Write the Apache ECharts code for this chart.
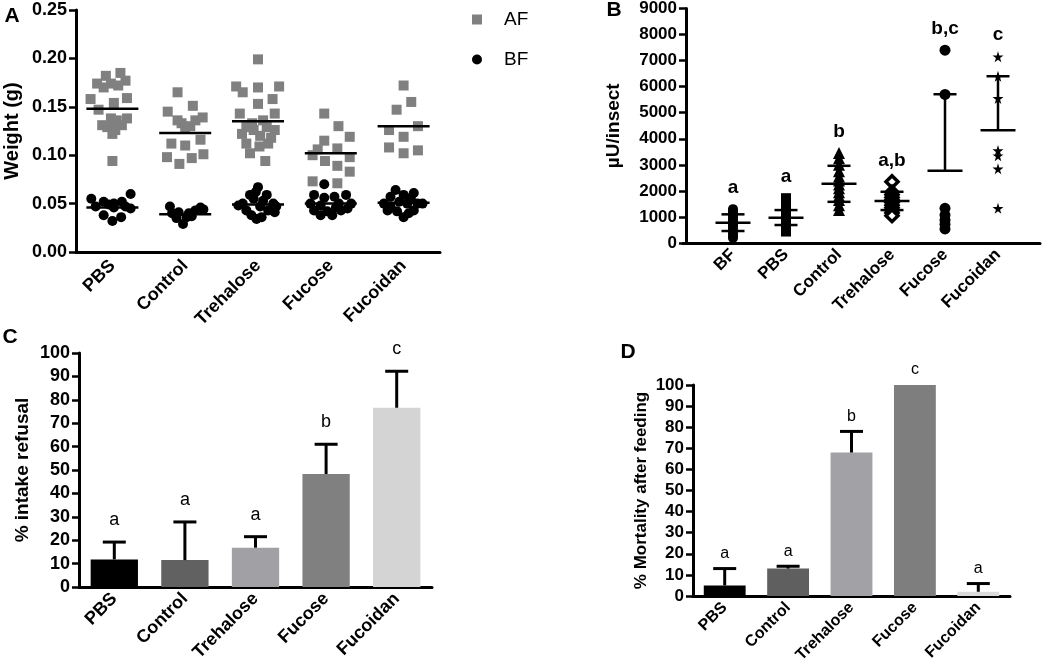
<!DOCTYPE html>
<html><head><meta charset="utf-8">
<script src="https://cdn.jsdelivr.net/npm/echarts@6/dist/echarts.min.js"></script>
<style>html,body{margin:0;padding:0;background:#fff}#c{width:1045px;height:670px}</style>
</head><body><div id="c"></div><script>
const FONT = "'Liberation Sans', Arial, sans-serif";

// ---------- Panel A: weight (g), [jitter, value] ----------
const catsA = ['PBS', 'Control', 'Trehalose', 'Fucose', 'Fucoidan'];
const afPBS = [[-0.30,0.158],[-0.19,0.147],[-0.21,0.174],[-0.09,0.182],[-0.02,0.174],[0.11,0.185],[0.18,0.177],[0.02,0.154],[0.20,0.159],[-0.02,0.138],[0.20,0.138],[-0.14,0.131],[-0.07,0.129],[0.06,0.136],[0.04,0.126],[0.13,0.131],[0.00,0.094],[-0.12,0.170],[0.08,0.172],[0.00,0.122]];
const afControl = [[-0.105,0.165],[0.105,0.151],[-0.24,0.145],[-0.105,0.136],[0.0,0.129],[0.14,0.136],[0.24,0.139],[-0.19,0.112],[0.0,0.110],[0.21,0.116],[-0.25,0.098],[-0.08,0.091],[0.09,0.097],[0.25,0.101],[-0.05,0.133],[0.07,0.130]];
const afTrehalose = [[0.0,0.199],[-0.30,0.171],[-0.21,0.165],[0.0,0.170],[0.29,0.171],[0.0,0.153],[0.20,0.158],[-0.25,0.143],[0.23,0.143],[-0.22,0.122],[-0.06,0.126],[0.12,0.129],[0.23,0.126],[0.03,0.120],[-0.16,0.112],[0.14,0.112],[-0.11,0.102],[0.02,0.109],[0.10,0.094],[-0.16,0.129],[0.07,0.136],[-0.08,0.133],[0.18,0.118]];
const afFucose = [[-0.09,0.143],[0.105,0.130],[0.26,0.119],[-0.09,0.115],[-0.18,0.106],[0.09,0.107],[-0.25,0.100],[0.26,0.098],[-0.08,0.094],[0.09,0.089],[0.26,0.083],[-0.25,0.073],[0.09,0.071]];
const afFucoidan = [[0.0,0.172],[0.105,0.155],[-0.096,0.147],[0.197,0.130],[-0.20,0.126],[0.0,0.119],[-0.20,0.108],[0.0,0.102],[0.197,0.105]];
const bfPBS = [[-0.29,0.055],[-0.23,0.047],[-0.12,0.052],[-0.12,0.038],[0.00,0.032],[0.02,0.050],[0.13,0.052],[0.12,0.036],[0.25,0.060],[0.25,0.045],[0.02,0.046],[-0.05,0.049],[0.18,0.047]];
const bfControl = [[-0.21,0.047],[-0.09,0.041],[0.02,0.036],[-0.03,0.029],[0.14,0.043],[0.21,0.046],[-0.18,0.040],[0.09,0.037],[0.25,0.044],[-0.12,0.035],[0.05,0.040]];
const bfTrehalose = [[0.0,0.067],[-0.11,0.059],[0.12,0.059],[-0.21,0.050],[0.21,0.050],[-0.16,0.043],[0.14,0.043],[-0.02,0.034],[0.05,0.036],[-0.09,0.038],[0.23,0.041],[-0.27,0.048],[-0.06,0.055],[0.07,0.053],[0.03,0.047],[0.25,0.047],[-0.03,0.062]];
const bfFucose = [[-0.09,0.070],[-0.23,0.059],[-0.09,0.056],[0.05,0.057],[0.21,0.059],[-0.28,0.050],[-0.14,0.048],[0.11,0.050],[0.28,0.050],[-0.23,0.043],[-0.05,0.042],[0.14,0.043],[-0.14,0.038],[0.02,0.038],[0.23,0.045],[0.07,0.046]];
const bfFucoidan = [[-0.11,0.064],[0.14,0.061],[-0.18,0.057],[0.0,0.059],[-0.27,0.050],[-0.18,0.047],[0.05,0.050],[0.19,0.050],[-0.09,0.042],[0.0,0.036],[0.14,0.043],[-0.22,0.043],[-0.06,0.052],[0.10,0.056],[0.26,0.050],[0.07,0.040]];
const afMean = [0.148, 0.123, 0.135, 0.102, 0.130];
const bfMean = [0.046, 0.039, 0.049, 0.050, 0.051];

// ---------- Panel B: µU/insect ----------
const catsB = ['BF', 'PBS', 'Control', 'Trehalose', 'Fucose', 'Fucoidan'];
const bBF = [1300,1230,1150,1060,970,880,800,720,630,540,450,350,260,190];
const bPBS = [1720,1640,1530,1420,1300,1180,1060,950,840,730,640,560,480,440];
const bControl = [3450,3250,3000,2750,2550,2400,2250,2100,1950,1800,1650,1450,1270];
const bTrehalose = [2350,1950,1850,1750,1650,1550,1450,1350,1250,1150,1050];
const bFucose = [7400,5700,1330,1070,880,720,540];
const bFucoidan = [7150,6400,5550,3550,3350,2850,1330];
const bMean = [780, 970, 2270, 1610, 2770, 4330];
const bSdHigh = [1100, 1264, 2963, 1966, 5710, 6400];
const bSdLow = [460, 690, 1580, 1264, null, null];
const bLetters = ['a', 'a', 'b', 'a,b', 'b,c', 'c'];

// ---------- Panel C: % intake refusal ----------
const catsC = ['PBS', 'Control', 'Trehalose', 'Fucose', 'Fucoidan'];
const cValues = [11.8, 11.5, 16.8, 48.3, 76.6];
const cErrTop = [19.2, 27.8, 21.5, 61.0, 92.2];
const cLetters = ['a', 'a', 'a', 'b', 'c'];
const cColors = ['#000000', '#616161', '#a1a1a5', '#808080', '#d4d4d4'];

// ---------- Panel D: % mortality after feeding ----------
const catsD = ['PBS', 'Control', 'Trehalose', 'Fucose', 'Fucoidan'];
const dValues = [5.0, 13.0, 68.0, 100, 2.0];
const dErrTop = [13.0, 14.1, 78.0, null, 5.9];
const dLetters = ['a', 'a', 'b', 'c', 'a'];
const dColors = ['#000000', '#5f5f5f', '#a2a2a6', '#7e7e7e', '#dadada'];

const STAR = 'path://M50,0 L61,35 L98,35 L68,57 L79,91 L50,70 L21,91 L32,57 L2,35 L39,35 Z';

function catAxis(gridIndex, data, fontSize, extra, margin) {
  return Object.assign({
    type: 'category', gridIndex, data,
    axisLine: { onZero: false, lineStyle: { color: '#000', width: 3 } },
    axisTick: { alignWithLabel: true, length: 7, lineStyle: { width: 2.5, color: '#000' } },
    axisLabel: { rotate: 45, margin: margin || 9, color: '#000', fontWeight: 'bold', fontSize, fontFamily: FONT, interval: 0 },
    splitLine: { show: false }
  }, extra || {});
}
function valAxis(gridIndex, max, interval, fontSize, name, nameSize, nameGap, fmt, extra) {
  return Object.assign({
    type: 'value', gridIndex, min: 0, max, interval,
    axisLine: { show: true, onZero: false, lineStyle: { color: '#000', width: 3 } },
    axisTick: { show: true, length: 7, lineStyle: { width: 2.5, color: '#000' } },
    axisLabel: { color: '#000', fontWeight: 'bold', fontSize, fontFamily: FONT, margin: 9, formatter: fmt },
    splitLine: { show: false },
    name, nameLocation: 'middle', nameGap,
    nameTextStyle: { color: '#000', fontWeight: 'bold', fontSize: nameSize, fontFamily: FONT }
  }, extra || {});
}
const hidden = (gridIndex, t, min, max) => ({ type: t, gridIndex, min, max, show: false, axisLine: { onZero: false }, splitLine: { show: false } });

const afGroups = [afPBS, afControl, afTrehalose, afFucose, afFucoidan];
const bfGroups = [bfPBS, bfControl, bfTrehalose, bfFucose, bfFucoidan];
const afData = afGroups.flatMap((g, i) => g.map(([j, v]) => [i + j, v]));
const bfData = bfGroups.flatMap((g, i) => g.map(([j, v]) => [i + j, v]));

function meanLineA(params, api) {
  const p = api.coord([api.value(0), api.value(1)]);
  return { type: 'line', shape: { x1: p[0] - 26, y1: p[1], x2: p[0] + 26, y2: p[1] }, style: { stroke: '#000', lineWidth: 2.5 } };
}

const bGroups = [bBF, bPBS, bControl, bTrehalose, bFucose, bFucoidan];
const bSymbols = [
  { symbol: 'circle', size: 10, fill: '#000' },
  { symbol: 'rect', size: 10, fill: '#000' },
  { symbol: 'triangle', size: 12, fill: '#000' },
  { symbol: 'diamond', size: 12, fill: '#fff', border: 3.5 },
  { symbol: 'circle', size: 11, fill: '#000' },
  { symbol: STAR, size: 11, fill: '#000' }
];
const bSeries = bGroups.map((g, i) => ({
  type: 'scatter', xAxisIndex: 2, yAxisIndex: 1, silent: true,
  symbol: bSymbols[i].symbol, symbolSize: bSymbols[i].size,
  itemStyle: { color: bSymbols[i].fill, borderColor: '#000', borderWidth: bSymbols[i].border || 0, opacity: 1 },
  data: g.map(v => [i, v]), z: 2
}));
const bErrData = bMean.map((m, i) => [i, m, bSdHigh[i], bSdLow[i] == null ? m : bSdLow[i], Math.max(...bGroups[i])]);
function errB(params, api) {
  const i = api.value(0);
  const pm = api.coord([i, api.value(1)]);
  const ph = api.coord([i, api.value(2)]);
  const pl = api.coord([i, api.value(3)]);
  const pt = api.coord([i, Math.max(api.value(4), api.value(2))]);
  const st = { stroke: '#000', lineWidth: 2.5 };
  const ch = [
    { type: 'line', shape: { x1: pm[0] - 17.5, y1: pm[1], x2: pm[0] + 17.5, y2: pm[1] }, style: st },
    { type: 'line', shape: { x1: ph[0], y1: ph[1], x2: pl[0], y2: pl[1] }, style: st },
    { type: 'line', shape: { x1: ph[0] - 11.5, y1: ph[1], x2: ph[0] + 11.5, y2: ph[1] }, style: st }
  ];
  if (api.value(3) < api.value(1)) ch.push({ type: 'line', shape: { x1: pl[0] - 11.5, y1: pl[1], x2: pl[0] + 11.5, y2: pl[1] }, style: st });
  ch.push({ type: 'text', style: { text: bLetters[params.dataIndex], x: pt[0], y: pt[1] - 12, align: 'center', verticalAlign: 'bottom', fontSize: 19, fontWeight: 'bold', fontFamily: FONT, fill: '#000' } });
  return { type: 'group', children: ch };
}

function errBar(letters, gap, fontSize) {
  return function (params, api) {
    const i = api.value(0);
    const pv = api.coord([i, api.value(1)]);
    const pe = api.coord([i, api.value(2)]);
    const st = { stroke: '#000', lineWidth: 3 };
    const ch = [];
    if (api.value(2) > api.value(1)) {
      ch.push({ type: 'line', shape: { x1: pv[0], y1: pv[1], x2: pe[0], y2: pe[1] }, style: st });
      ch.push({ type: 'line', shape: { x1: pe[0] - 11.5, y1: pe[1], x2: pe[0] + 11.5, y2: pe[1] }, style: st });
    }
    ch.push({ type: 'text', style: { text: letters[params.dataIndex], x: pe[0], y: pe[1] - gap, align: 'center', verticalAlign: 'bottom', fontSize, fontFamily: FONT, fill: '#000' } });
    return { type: 'group', children: ch };
  };
}

const panelLetter = (t, x, y) => ({ type: 'text', x, y, style: { text: t, fontSize: 21, fontWeight: 'bold', fontFamily: FONT, fill: '#000', align: 'center', verticalAlign: 'middle' } });

const option = {
  animation: false,
  backgroundColor: '#fff',
  textStyle: { fontFamily: FONT },
  grid: [
    { left: 76, top: 10, width: 364, height: 242 },
    { left: 706.5, top: 8, width: 318, height: 235 },
    { left: 683, top: 8, width: 357, height: 235 },
    { left: 79, top: 353, width: 353, height: 234 },
    { left: 693, top: 385, width: 317, height: 211 }
  ],
  legend: {
    data: ['AF', 'BF'], orient: 'vertical', left: 467, top: 4.5, itemWidth: 10, itemHeight: 10, itemGap: 20,
    textStyle: { fontSize: 19, lineHeight: 20, color: '#000', fontFamily: FONT, padding: [0, 0, 0, 17] }, selectedMode: false
  },
  xAxis: [
    catAxis(0, catsA, 18, null, 11),
    hidden(0, 'value', -0.5, 4.5),
    catAxis(1, catsB, 17, { axisLine: { show: false } }),
    { type: 'value', gridIndex: 2, min: 0, max: 1, axisLine: { show: true, onZero: false, lineStyle: { color: '#000', width: 3 } }, axisTick: { show: false }, axisLabel: { show: false }, splitLine: { show: false } },
    catAxis(3, catsC, 18),
    catAxis(4, catsD, 16)
  ],
  yAxis: [
    valAxis(0, 0.25, 0.05, 18, 'Weight (g)', 20, 54, v => v.toFixed(2)),
    valAxis(1, 9000, 1000, 17, 'µU/insect', 19, 63, v => String(v), { offset: 20.5 }),
    hidden(2, 'value', 0, 1),
    valAxis(3, 100, 10, 18, '% intake refusal', 19, 47, v => String(v)),
    valAxis(4, 100, 10, 17, '% Mortality after feeding', 17, 43, v => String(v))
  ],
  graphic: [panelLetter('A', 12, 16), panelLetter('B', 614, 10), panelLetter('C', 10, 337), panelLetter('D', 628, 352)],
  series: [
    { name: 'AF', type: 'scatter', xAxisIndex: 1, yAxisIndex: 0, symbol: 'rect', symbolSize: 10, itemStyle: { color: '#808080', opacity: 1 }, data: afData, silent: true },
    { name: 'BF', type: 'scatter', xAxisIndex: 1, yAxisIndex: 0, symbol: 'circle', symbolSize: 10, itemStyle: { color: '#000', opacity: 1 }, data: bfData, silent: true },
    { type: 'custom', xAxisIndex: 0, yAxisIndex: 0, renderItem: meanLineA, data: afMean.map((m, i) => [i, m]), z: 5, silent: true },
    { type: 'custom', xAxisIndex: 0, yAxisIndex: 0, renderItem: meanLineA, data: bfMean.map((m, i) => [i, m]), z: 5, silent: true },
    ...bSeries,
    { type: 'custom', xAxisIndex: 2, yAxisIndex: 1, renderItem: errB, data: bErrData, z: 5, silent: true },
    { type: 'bar', xAxisIndex: 4, yAxisIndex: 3, barWidth: '67%', silent: true,
      data: cValues.map((v, i) => ({ value: v, itemStyle: { color: cColors[i] } })) },
    { type: 'custom', xAxisIndex: 4, yAxisIndex: 3, renderItem: errBar(cLetters, 13, 18), data: cValues.map((v, i) => [i, v, cErrTop[i]]), z: 5, silent: true },
    { type: 'bar', xAxisIndex: 5, yAxisIndex: 4, barWidth: '66%', silent: true,
      data: dValues.map((v, i) => ({ value: v, itemStyle: { color: dColors[i] } })) },
    { type: 'custom', xAxisIndex: 5, yAxisIndex: 4, renderItem: errBar(dLetters, 7, 16), data: dValues.map((v, i) => [i, v, dErrTop[i] == null ? v : dErrTop[i]]), z: 5, silent: true }
  ]
};
const chart = echarts.init(document.getElementById('c'), null, { renderer: 'canvas' });
chart.setOption(option);
</script></body></html>
